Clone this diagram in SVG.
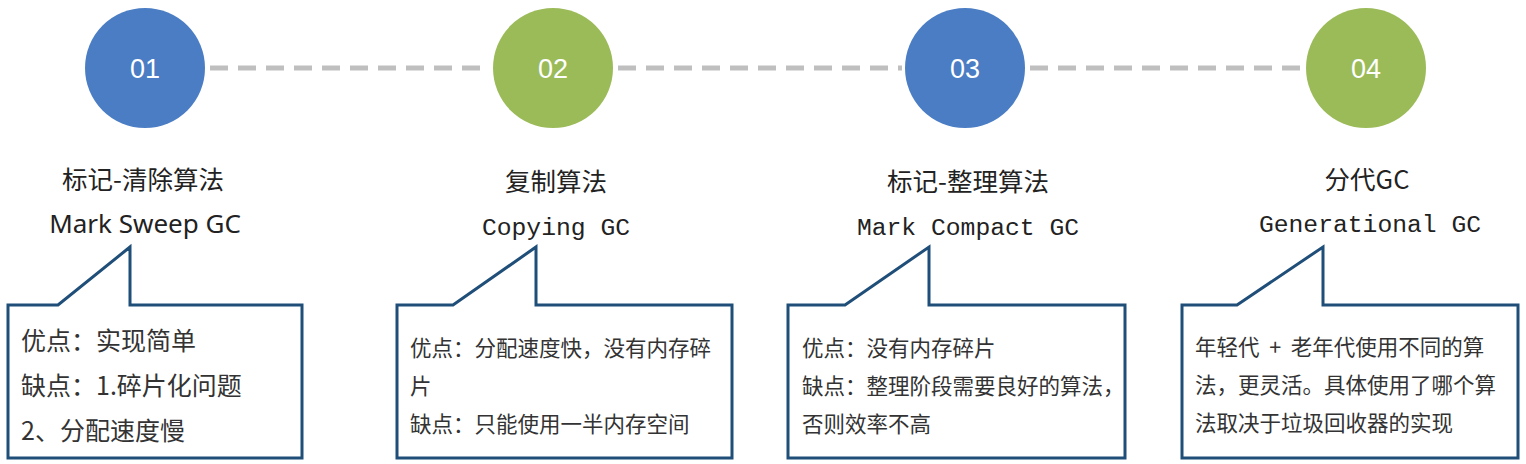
<svg xmlns="http://www.w3.org/2000/svg" width="1526" height="464" viewBox="0 0 1526 464">
<style>
.blue{fill:#4A7DC4}
.green{fill:#9BBB59}
.num{font-family:"Liberation Sans",Arial,sans-serif;font-size:27px;fill:#fff;text-anchor:middle}
.t1{font-family:"Noto Sans CJK SC",sans-serif;font-size:25.5px;fill:#222;text-anchor:middle}
.t2{font-family:"Noto Sans","Open Sans",sans-serif;font-size:26px;fill:#222;text-anchor:middle}
.mono{font-family:"Liberation Mono","DejaVu Sans Mono",monospace;font-size:24.7px;fill:#222;text-anchor:middle}
.box{fill:#fff;stroke:#1F4E79;stroke-width:3;stroke-linejoin:miter}
.b1{font-family:"Noto Sans CJK SC",sans-serif;font-size:25px;fill:#333}
.b2{font-family:"Noto Sans CJK SC",sans-serif;font-size:21.5px;fill:#333}
.dash{stroke:#BFBFBF;stroke-width:5;stroke-dasharray:18 10;fill:none}
</style>
<rect width="1526" height="464" fill="#fff"/>
<g id="connectors">
<line class="dash" x1="210" y1="68" x2="490" y2="68"/>
<line class="dash" x1="618" y1="68" x2="902" y2="68"/>
<line class="dash" x1="1030" y1="68" x2="1303" y2="68"/>
</g>
<g id="node1">
<circle class="blue" cx="145" cy="68" r="60"/>
<text class="num" x="145" y="78">01</text>
<text class="t1" x="143" y="189">标记-清除算法</text>
<text class="t2" x="145" y="233">Mark Sweep GC</text>
<path class="box" d="M8,305 H58 L130,247 V305 H302 V458 H8 Z"/>
<text class="b1" x="21" y="350">优点：实现简单</text>
<text class="b1" x="21" y="395">缺点：1.碎片化问题</text>
<text class="b1" x="21" y="440">2、分配速度慢</text>
</g>
<g id="node2">
<circle class="green" cx="553" cy="68" r="60"/>
<text class="num" x="553" y="78">02</text>
<text class="t1" x="556" y="191">复制算法</text>
<text class="mono" x="556" y="235">Copying GC</text>
<path class="box" d="M397,305 H453 L536,247 V305 H732 V458 H397 Z"/>
<text class="b2" x="410" y="356">优点：分配速度快，没有内存碎</text>
<text class="b2" x="410" y="394">片</text>
<text class="b2" x="410" y="432">缺点：只能使用一半内存空间</text>
</g>
<g id="node3">
<circle class="blue" cx="965" cy="68" r="60"/>
<text class="num" x="965" y="78">03</text>
<text class="t1" x="968" y="191">标记-整理算法</text>
<text class="mono" x="968" y="235">Mark Compact GC</text>
<path class="box" d="M788,305 H845 L929,247 V305 H1125 V458 H788 Z"/>
<text class="b2" x="802" y="356">优点：没有内存碎片</text>
<text class="b2" x="802" y="394">缺点：整理阶段需要良好的算法，</text>
<text class="b2" x="802" y="432">否则效率不高</text>
</g>
<g id="node4">
<circle class="green" cx="1366" cy="68" r="60"/>
<text class="num" x="1366" y="78">04</text>
<text class="t1" x="1367" y="189">分代GC</text>
<text class="mono" x="1370" y="232">Generational GC</text>
<path class="box" d="M1182,305 H1237 L1323,247 V305 H1518 V458 H1182 Z"/>
<text class="b2" x="1195" y="355" style="white-space:pre">年轻代  +  老年代使用不同的算</text>
<text class="b2" x="1195" y="393">法，更灵活。具体使用了哪个算</text>
<text class="b2" x="1195" y="431">法取决于垃圾回收器的实现</text>
</g>
</svg>
